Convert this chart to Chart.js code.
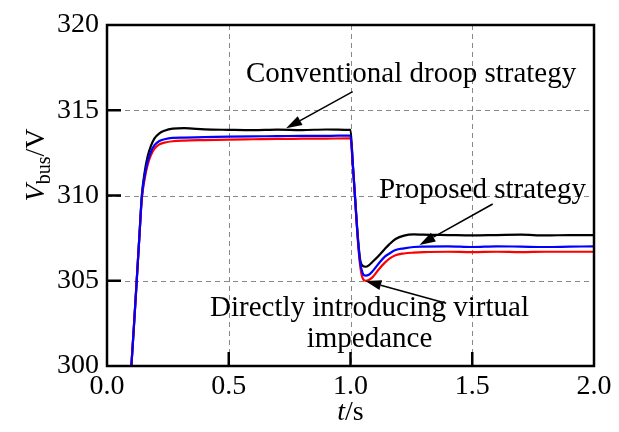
<!DOCTYPE html>
<html><head><meta charset="utf-8">
<script src="https://cdn.jsdelivr.net/npm/chart.js@4"></script>
<style>html,body{margin:0;padding:0;background:#fff}#wrap{width:619px;height:432px}</style>
</head><body><div id="wrap"><canvas id="c" width="619" height="432"></canvas></div>
<script>
// time axis (s)
const time = [0.1, 0.11, 0.122, 0.133, 0.143, 0.155, 0.167, 0.18, 0.195, 0.215, 0.236, 0.27, 0.318, 0.4, 0.5, 0.6, 0.7, 0.8, 0.9, 0.997,
  1.0, 1.01, 1.02, 1.03, 1.04, 1.05, 1.062, 1.075, 1.09, 1.115, 1.14, 1.16, 1.185, 1.22, 1.26, 1.3, 1.4, 1.5, 1.6, 1.7, 1.8, 1.9, 2.0];
// Conventional droop strategy (black)
const conventional = [300, 302.2, 305, 307.6, 310.0, 311.4, 312.3, 312.9, 313.35, 313.65, 313.8, 313.92, 313.95, 313.88, 313.85, 313.83, 313.86, 313.84, 313.87, 313.85,
  313.85, 311.75, 309.65, 307.6, 306.2, 305.88, 305.82, 305.9, 306.1, 306.45, 306.85, 307.15, 307.45, 307.65, 307.72, 307.7, 307.68, 307.66, 307.68, 307.7, 307.66, 307.68, 307.68];
// Proposed strategy (blue)
const proposed = [300, 302.2, 305, 307.6, 309.9, 311.2, 312.0, 312.55, 312.95, 313.2, 313.3, 313.38, 313.4, 313.42, 313.45, 313.47, 313.48, 313.5, 313.5, 313.52,
  313.52, 311.7, 309.6, 307.5, 306.05, 305.45, 305.3, 305.35, 305.55, 306.0, 306.4, 306.6, 306.8, 306.9, 306.98, 307.0, 307.02, 306.98, 307.02, 307.0, 306.98, 307.0, 307.02];
// Directly introducing virtual impedance (red)
const virtualImp = [300, 302.2, 305, 307.6, 309.8, 311.0, 311.8, 312.35, 312.75, 313.0, 313.1, 313.18, 313.22, 313.25, 313.28, 313.3, 313.32, 313.33, 313.34, 313.35,
  313.35, 311.65, 309.55, 307.4, 305.85, 305.15, 305.0, 305.05, 305.2, 305.65, 306.05, 306.3, 306.5, 306.6, 306.65, 306.68, 306.7, 306.68, 306.7, 306.68, 306.7, 306.7, 306.7];

const xTickValues = [0, 0.5, 1.0, 1.5, 2.0];
const xTickLabels = ['0.0', '0.5', '1.0', '1.5', '2.0'];
const yTickValues = [300, 305, 310, 315, 320];
const yTickLabels = ['300', '305', '310', '315', '320'];

const FONT = '"Liberation Serif", "Times New Roman", serif';

// annotation placement (data coordinates)
const notes = [
  {lines: ['Conventional droop strategy'], x: 1.249, y: 316.66, dy: 0, from: [1.009, 316.09], to: [0.7355, 313.94]},
  {lines: ['Proposed strategy'], x: 1.542, y: 309.85, dy: 0, from: [1.584, 309.5], to: [1.283, 307.1]},
  {lines: ['Directly introducing virtual', 'impedance'], x: 1.078, y: 302.93, dy: 31, from: [1.393, 303.68], to: [1.061, 304.99]}
];

const toXY = arr => time.map((t, i) => ({x: t, y: arr[i]}));

function arrow(ctx, x1, y1, x2, y2) {
  const ang = Math.atan2(y2 - y1, x2 - x1);
  const L = 16, W = 5;
  const bx = x2 - L * Math.cos(ang), by = y2 - L * Math.sin(ang);
  ctx.beginPath(); ctx.moveTo(x1, y1); ctx.lineTo(bx, by); ctx.stroke();
  ctx.beginPath();
  ctx.moveTo(x2, y2);
  ctx.lineTo(bx + W * Math.sin(ang), by - W * Math.cos(ang));
  ctx.lineTo(bx - W * Math.sin(ang), by + W * Math.cos(ang));
  ctx.closePath(); ctx.fill();
}

const decor = {
  id: 'decor',
  beforeDatasetsDraw(chart) {
    const {ctx, chartArea: a, scales: {x, y}} = chart;
    ctx.save();
    ctx.strokeStyle = '#888'; ctx.lineWidth = 1; ctx.setLineDash([5, 4]);
    xTickValues.slice(1, -1).forEach(v => {
      const px = Math.round(x.getPixelForValue(v)) + 0.5;
      ctx.beginPath(); ctx.moveTo(px, a.top); ctx.lineTo(px, a.bottom); ctx.stroke();
    });
    yTickValues.slice(1, -1).forEach(v => {
      const py = Math.round(y.getPixelForValue(v)) + 0.5;
      ctx.beginPath(); ctx.moveTo(a.left, py); ctx.lineTo(a.right, py); ctx.stroke();
    });
    ctx.restore();
  },
  afterDatasetsDraw(chart) {
    const {ctx, chartArea: a, scales: {x, y}} = chart;
    ctx.save();
    ctx.setLineDash([]);
    ctx.strokeStyle = '#000'; ctx.lineWidth = 2.5;
    ctx.strokeRect(a.left, a.top, a.right - a.left, a.bottom - a.top);
    ctx.lineWidth = 2.5;
    xTickValues.slice(1, -1).forEach(v => {
      const px = x.getPixelForValue(v);
      ctx.beginPath(); ctx.moveTo(px, a.bottom); ctx.lineTo(px, a.bottom - 14); ctx.stroke();
    });
    yTickValues.slice(1, -1).forEach(v => {
      const py = y.getPixelForValue(v);
      ctx.beginPath(); ctx.moveTo(a.left, py); ctx.lineTo(a.left + 14, py); ctx.stroke();
    });
    // annotations
    ctx.fillStyle = '#000'; ctx.strokeStyle = '#000'; ctx.lineWidth = 1.6;
    ctx.font = '29px ' + FONT; ctx.textAlign = 'center'; ctx.textBaseline = 'alphabetic';
    notes.forEach(n => {
      const tx = x.getPixelForValue(n.x), ty = y.getPixelForValue(n.y);
      n.lines.forEach((s, i) => ctx.fillText(s, tx, ty + i * n.dy));
      arrow(ctx, x.getPixelForValue(n.from[0]), y.getPixelForValue(n.from[1]),
        x.getPixelForValue(n.to[0]), y.getPixelForValue(n.to[1]));
    });
    // x title: t/s
    ctx.textAlign = 'left';
    const cx = (a.left + a.right) / 2;
    ctx.font = 'italic 28px ' + FONT;
    const wT = ctx.measureText('t').width;
    ctx.font = '28px ' + FONT;
    const wS = ctx.measureText('/s').width;
    let sx = cx - (wT + wS) / 2;
    ctx.font = 'italic 28px ' + FONT; ctx.fillText('t', sx, 420);
    ctx.font = '28px ' + FONT; ctx.fillText('/s', sx + wT, 420);
    // y title: V_bus/V
    ctx.save();
    ctx.translate(44, 165); ctx.rotate(-Math.PI / 2);
    ctx.font = 'italic 28px ' + FONT; const wV = ctx.measureText('V').width;
    ctx.font = '20px ' + FONT; const wB = ctx.measureText('bus').width;
    ctx.font = '28px ' + FONT; const wR = ctx.measureText('/V').width;
    let ox = -(wV + wB + wR) / 2;
    ctx.font = 'italic 28px ' + FONT; ctx.fillText('V', ox, 0);
    ctx.font = '20px ' + FONT; ctx.fillText('bus', ox + wV, 6);
    ctx.font = '28px ' + FONT; ctx.fillText('/V', ox + wV + wB, 0);
    ctx.restore();
    ctx.restore();
  }
};

new Chart(document.getElementById('c'), {
  type: 'line',
  data: {
    datasets: [
      {label: 'Conventional droop strategy', data: toXY(conventional), borderColor: '#000000', order: 2},
      {label: 'Directly introducing virtual impedance', data: toXY(virtualImp), borderColor: '#ff0000', order: 1},
      {label: 'Proposed strategy', data: toXY(proposed), borderColor: '#0000ff', order: 0}
    ]
  },
  options: {
    responsive: false, animation: false,
    layout: {padding: {top: 25, right: 25, left: 0, bottom: 0}},
    elements: {point: {radius: 0}, line: {borderWidth: 2.2, cubicInterpolationMode: 'monotone', fill: false}},
    plugins: {legend: {display: false}, tooltip: {enabled: false}},
    scales: {
      x: {
        type: 'linear', min: 0, max: 2,
        afterBuildTicks: s => { s.ticks = xTickValues.map(v => ({value: v})); },
        afterFit: s => { s.height = 66; },
        grid: {display: false, drawTicks: false, tickLength: 0}, border: {display: false},
        ticks: {callback: (v, i) => xTickLabels[i], color: '#000', font: {family: FONT, size: 28}, padding: 4, maxRotation: 0}
      },
      y: {
        type: 'linear', min: 300, max: 320,
        afterBuildTicks: s => { s.ticks = yTickValues.map(v => ({value: v})); },
        afterFit: s => { s.width = 107; },
        grid: {display: false, drawTicks: false, tickLength: 0}, border: {display: false},
        ticks: {callback: (v, i) => yTickLabels[i], color: '#000', font: {family: FONT, size: 28}, padding: 8}
      }
    }
  },
  plugins: [decor]
});
</script>
</body></html>
